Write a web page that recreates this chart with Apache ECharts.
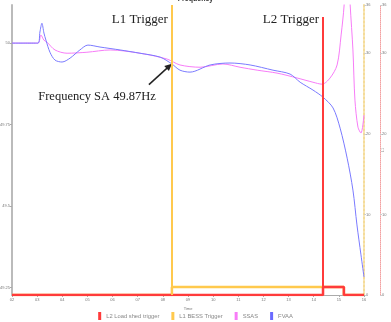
<!DOCTYPE html>
<html>
<head>
<meta charset="utf-8">
<script src="https://cdn.jsdelivr.net/npm/echarts@6/dist/echarts.min.js"></script>
<style>
  html, body { margin: 0; padding: 0; background: #fff; }
  #chart { width: 391px; height: 322px; }
</style>
</head>
<body>
<div id="chart"></div>
<script>
// time (min) / frequency (Hz) samples
const ssas = [
  [2, 50.0], [3.03, 50.0], [3.15, 50.025], [3.27, 50.009], [3.39, 50.003],
  [3.71, 49.979], [4.19, 49.969], [4.98, 49.972], [5.9, 49.979], [7.09, 49.969],
  [8.17, 49.951], [8.68, 49.933], [9.48, 49.926], [10.39, 49.936], [11.07, 49.926],
  [11.75, 49.917], [12.54, 49.908], [13.34, 49.893], [13.97, 49.88], [14.33, 49.874],
  [14.65, 49.893], [14.93, 49.933], [15.09, 50.025], [15.21, 50.117], [15.29, 50.25],
  [15.37, 50.25], [15.45, 50.117], [15.56, 49.979], [15.64, 49.825], [15.76, 49.742],
  [15.88, 49.724], [16, 49.779]
];
const fvaa = [
  [2, 50.0], [3.03, 50.0], [3.11, 50.034], [3.19, 50.061], [3.27, 50.031],
  [3.35, 50.009], [3.51, 49.972], [3.71, 49.948], [3.99, 49.942], [4.31, 49.954],
  [4.7, 49.979], [5.02, 49.994], [5.5, 49.988], [6.3, 49.979], [7.09, 49.969],
  [7.89, 49.957], [8.36, 49.936], [8.68, 49.917], [9.08, 49.911], [9.88, 49.933],
  [10.67, 49.939], [11.47, 49.933], [12.38, 49.917], [13.06, 49.905], [13.46, 49.88],
  [13.97, 49.856], [14.37, 49.834], [14.77, 49.801], [15.05, 49.739], [15.33, 49.647],
  [15.56, 49.549], [15.72, 49.442], [15.88, 49.35], [16, 49.282]
];
const l1Trigger = [[2, 0], [8.36, 0], [8.36, 1], [15.2, 1], [15.2, 0], [16, 0]];
const l2Trigger = [[2, 0], [14.37, 0], [14.37, 1], [15.2, 1], [15.2, 0], [16, 0]];
const l1Time = 8.36;
const l2Time = 14.37;
const freqTicks = [49.25, 49.5, 49.75, 50];
const annotation = { x: 8.36, y: 49.937, text: 'Frequency SA 49.87Hz' };

const chart = echarts.init(document.getElementById('chart'));

const small = { fontSize: 4, color: '#777' };

const option = {
  animation: false,
  title: {
    text: 'Frequency',
    left: 'center',
    top: -9,
    textStyle: { fontSize: 7, color: '#333' }
  },
  legend: {
    bottom: 2,
    padding: 0,
    icon: 'rect',
    itemWidth: 3,
    itemHeight: 8,
    itemGap: 12,
    textStyle: { fontSize: 5.8, color: '#888' },
    data: ['L2 Load shed trigger', 'L1 BESS Trigger', 'SSAS', 'FVAA']
  },
  grid: { left: 12, right: 27, top: 5, bottom: 27, outerBoundsMode: 'none' },
  xAxis: {
    type: 'value',
    min: 2,
    max: 16,
    interval: 1,
    name: 'Time',
    nameLocation: 'middle',
    nameGap: 9,
    nameTextStyle: small,
    axisLine: { lineStyle: { color: '#aaa', width: 1 } },
    axisTick: { length: 2, lineStyle: { color: '#aaa' } },
    axisLabel: { ...small, margin: 3, formatter: v => String(v).padStart(2, '0') },
    splitLine: { show: false }
  },
  yAxis: [
    {
      type: 'value',
      min: 49.227,
      max: 50.117,
      name: 'Frequency (Hz)',
      nameLocation: 'middle',
      nameGap: 9,
      nameTextStyle: { fontSize: 4, color: '#999' },
      axisLine: { show: true, lineStyle: { color: '#bbb', width: 2 } },
      axisTick: { show: true, length: 2, customValues: freqTicks, lineStyle: { color: '#aaa' } },
      axisLabel: { ...small, margin: 2, customValues: freqTicks },
      splitLine: { show: false }
    },
    {
      type: 'value',
      position: 'right',
      min: 0,
      max: 36,
      interval: 10,
      name: 'L1',
      nameLocation: 'middle',
      nameGap: 10,
      nameTextStyle: { fontSize: 4, color: '#999' },
      axisLine: { show: true, lineStyle: { color: '#f5dc9a', type: 'dotted', width: 2 } },
      axisTick: { show: true, length: 2, lineStyle: { color: '#ccc' } },
      axisLabel: { ...small, margin: 2 },
      splitLine: { show: false }
    },
    {
      type: 'value',
      position: 'right',
      offset: 16,
      min: 0,
      max: 36,
      interval: 10,
      name: 'L2',
      nameLocation: 'middle',
      nameGap: 7,
      nameTextStyle: { fontSize: 4, color: '#999' },
      axisLine: { show: true, lineStyle: { color: '#f3a0a0', type: 'dotted', width: 1 } },
      axisTick: { show: true, length: 2, lineStyle: { color: '#ccc' } },
      axisLabel: { ...small, margin: 2 },
      splitLine: { show: false }
    }
  ],
  series: [
    {
      name: 'L2 Load shed trigger',
      type: 'line',
      yAxisIndex: 2,
      data: l2Trigger,
      showSymbol: false,
      z: 4,
      lineStyle: { color: '#ff3b3b', width: 2.5 },
      itemStyle: { color: '#ff3b3b' },
      markLine: {
        silent: true,
        symbol: 'none',
        label: { show: false },
        lineStyle: { color: '#ff3b3b', width: 2, type: 'solid' },
        data: [[{ coord: [l2Time, 0] }, { coord: [l2Time, 34.5] }]]
      }
    },
    {
      name: 'L1 BESS Trigger',
      type: 'line',
      yAxisIndex: 1,
      data: l1Trigger,
      showSymbol: false,
      z: 3,
      lineStyle: { color: '#ffc94d', width: 2.5 },
      itemStyle: { color: '#ffc94d' },
      markLine: {
        silent: true,
        symbol: 'none',
        label: { show: false },
        lineStyle: { color: '#ffc94d', width: 2, type: 'solid' },
        data: [{ xAxis: l1Time }]
      }
    },
    {
      name: 'SSAS',
      type: 'line',
      data: ssas,
      showSymbol: false,
      smooth: 0.3,
      lineStyle: { color: '#f77cf7', width: 1 },
      itemStyle: { color: '#f77cf7' }
    },
    {
      name: 'FVAA',
      type: 'line',
      data: fvaa,
      showSymbol: false,
      smooth: 0.3,
      lineStyle: { color: '#7a7aff', width: 1 },
      itemStyle: { color: '#6a6aff' }
    }
  ]
};

chart.setOption(option);

// trigger captions and the arrow annotation, placed through the axes
const top1 = chart.convertToPixel({ xAxisIndex: 0, yAxisIndex: 0 }, [l1Time, 50.117]);
const top2 = chart.convertToPixel({ xAxisIndex: 0, yAxisIndex: 0 }, [l2Time, 50.117]);
const tip = chart.convertToPixel({ xAxisIndex: 0, yAxisIndex: 0 }, [annotation.x, annotation.y]);
const tail = [tip[0] - 23, tip[1] + 21];
const ang = Math.atan2(tip[1] - tail[1], tip[0] - tail[0]);
const head = (a, r) => [tip[0] - r * Math.cos(ang + a), tip[1] - r * Math.sin(ang + a)];
const serif = 'Liberation Serif, Times New Roman, serif';

chart.setOption({
  graphic: [
    {
      type: 'text', x: top1[0] - 4, y: top1[1] + 15,
      style: { text: 'L1 Trigger', font: '13px ' + serif, fill: '#222', align: 'right', verticalAlign: 'middle' }
    },
    {
      type: 'text', x: top2[0] - 4, y: top2[1] + 15,
      style: { text: 'L2 Trigger', font: '13px ' + serif, fill: '#222', align: 'right', verticalAlign: 'middle' }
    },
    {
      type: 'text', x: tail[0] + 7, y: tail[1] + 12,
      style: { text: annotation.text, font: '12.5px ' + serif, fill: '#222', align: 'right', verticalAlign: 'middle' }
    },
    {
      type: 'line',
      shape: { x1: tail[0], y1: tail[1], x2: tip[0] - 4 * Math.cos(ang), y2: tip[1] - 4 * Math.sin(ang) },
      style: { stroke: '#222', lineWidth: 1.5 }
    },
    {
      type: 'polygon',
      shape: { points: [tip, head(0.45, 8), head(-0.45, 8)] },
      style: { fill: '#222' }
    }
  ]
});
</script>
</body>
</html>
